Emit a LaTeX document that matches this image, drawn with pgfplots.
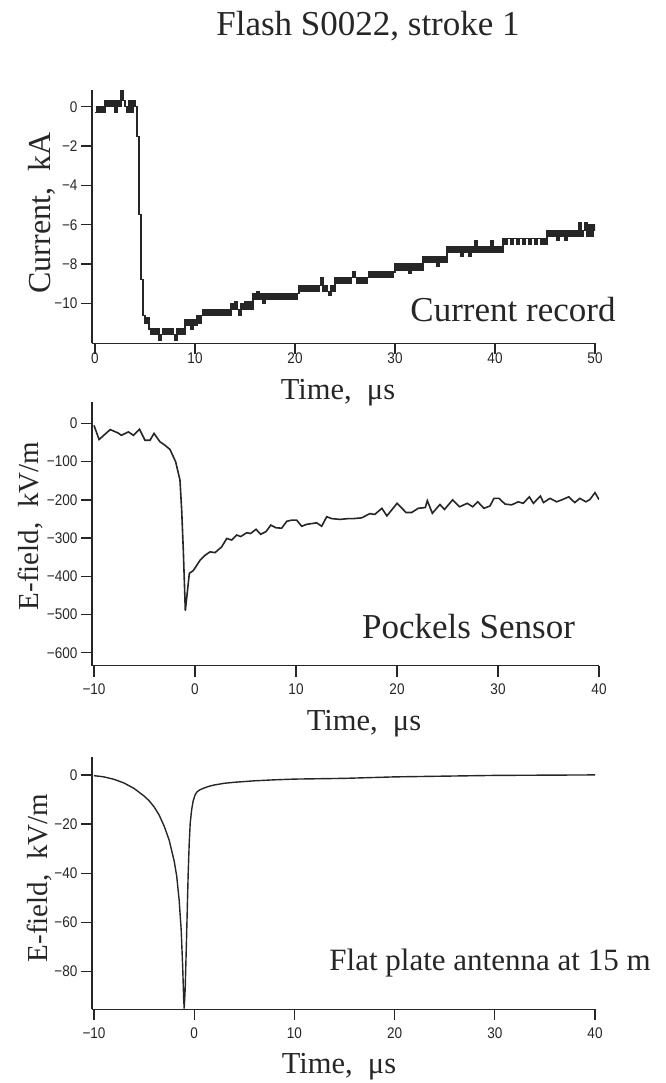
\documentclass[border=0pt]{standalone}
\usepackage{fontspec}
\setmainfont{Liberation Serif}
\newfontfamily\ticksfont[FakeStretch=0.88]{Liberation Sans}
\usepackage{pgfplots}
\pgfplotsset{compat=1.18}
\definecolor{ink}{gray}{0.15}
\pgfplotsset{
  myaxis/.style={
    scale only axis, anchor=south west,
    axis lines=left,
    axis line style={-, line width=1.5pt, ink},
    tick align=outside, major tick length=11pt,
    every tick/.style={line width=1.3pt, ink},
    ticklabel style={font=\ticksfont\fontsize{15.4}{15.4}\selectfont, text=ink},
    minor tick num=0,
  }
}
\begin{document}
\begin{tikzpicture}
\path[use as bounding box] (0pt,0pt) rectangle (665pt,-1083pt);

% ---------- Panel 1: current ----------
\begin{axis}[myaxis, at={(92pt,-343.3pt)}, width=503pt, height=253.3pt,
  xmin=-0.3, xmax=50, ymin=-12.03, ymax=0.85,
  xticklabel style={yshift=5pt},
  xtick={0,10,20,30,40,50}, xticklabels={0,10,20,30,40,50},
  ytick={0,-2,-4,-6,-8,-10}, yticklabels={0,−2,−4,−6,−8,−10}]
\addplot[const plot, ink, line width=1.2pt] coordinates {
(0.0,-0.3)(0.2,0)(0.4,-0.3)(0.6,0)(0.8,-0.3)(1.0,0.3)(1.2,0)(1.4,0.3)(1.6,0)(1.8,0.3)
(2.0,-0.3)(2.2,0.3)(2.4,0)(2.6,0.8)(2.8,0.3)(3.0,0)(3.2,-0.3)(3.4,0.3)(3.6,-0.3)(3.8,0.3)
(4.0,0)(4.2,-1.5)(4.4,-5.5)(4.6,-8.8)(4.8,-10.6)(5.0,-11.0)(5.2,-10.7)(5.4,-11.3)(5.6,-11.6)(5.8,-11.3)
(6.0,-11.6)(6.2,-11.3)(6.4,-11.9)(6.6,-11.6)(6.8,-11.3)(7.0,-11.6)(7.2,-11.3)(7.4,-11.6)(7.6,-11.3)(7.8,-11.6)
(8.0,-11.9)(8.2,-11.3)(8.4,-11.6)(8.6,-11.3)(8.8,-11.6)(9.0,-10.8)(9.2,-11.1)(9.4,-10.8)(9.6,-11.3)(9.8,-10.8)
(10.0,-11.1)(10.2,-10.6)(10.4,-11.0)(10.6,-10.6)(10.8,-10.3)(11.0,-10.6)(11.2,-10.3)(11.4,-10.6)(11.6,-10.3)(11.8,-10.6)
(12.0,-10.3)(12.2,-10.6)(12.4,-10.3)(12.6,-10.6)(12.8,-10.3)(13.0,-10.6)(13.2,-10.3)(13.4,-10.6)(13.6,-10.0)(13.8,-10.3)
(14.0,-9.9)(14.2,-10.3)(14.4,-10.6)(14.6,-10.0)(14.8,-10.3)(15.0,-9.9)(15.2,-10.3)(15.4,-9.9)(15.6,-10.3)(15.8,-9.5)
(16.0,-9.8)(16.2,-9.4)(16.4,-9.8)(16.6,-9.5)(16.8,-10.0)(17.0,-9.5)(17.2,-9.8)(17.4,-9.5)(17.6,-9.8)(17.8,-9.5)
(18.0,-9.8)(18.2,-9.5)(18.4,-9.8)(18.6,-9.5)(18.8,-9.8)(19.0,-9.5)(19.2,-9.8)(19.4,-9.5)(19.6,-9.8)(19.8,-9.5)
(20.0,-9.8)(20.2,-9.5)(20.4,-9.1)(20.6,-9.4)(20.8,-9.1)(21.0,-9.4)(21.2,-9.1)(21.4,-9.4)(21.6,-9.1)(21.8,-9.4)
(22.0,-9.1)(22.2,-9.4)(22.4,-9.1)(22.6,-8.7)(22.8,-9.4)(23.0,-9.1)(23.2,-9.4)(23.4,-9.6)(23.6,-9.1)(23.8,-9.4)
(24.0,-8.7)(24.2,-9.0)(24.4,-8.7)(24.6,-9.0)(24.8,-8.7)(25.0,-9.0)(25.2,-8.7)(25.4,-9.0)(25.6,-8.7)(25.8,-8.4)
(26.0,-8.7)(26.2,-9.0)(26.4,-8.7)(26.6,-9.0)(26.8,-8.7)(27.0,-9.0)(27.2,-8.7)(27.4,-8.4)(27.6,-8.7)(27.8,-8.4)
(28.0,-8.7)(28.2,-8.4)(28.4,-8.7)(28.6,-8.4)(28.8,-8.7)(29.0,-8.4)(29.2,-8.7)(29.4,-8.4)(29.6,-8.7)(29.8,-8.4)
(30.0,-8.0)(30.2,-8.3)(30.4,-8.0)(30.6,-8.3)(30.8,-8.0)(31.0,-8.3)(31.2,-8.0)(31.4,-8.5)(31.6,-8.0)(31.8,-8.3)
(32.0,-8.0)(32.2,-8.3)(32.4,-8.0)(32.6,-8.3)(32.8,-7.6)(33.0,-7.9)(33.2,-7.6)(33.4,-7.9)(33.6,-7.6)(33.8,-7.9)
(34.0,-7.6)(34.2,-8.1)(34.4,-7.6)(34.6,-7.9)(34.8,-7.6)(35.0,-7.9)(35.2,-7.1)(35.4,-7.4)(35.6,-7.1)(35.8,-7.4)
(36.0,-7.1)(36.2,-7.4)(36.4,-7.1)(36.6,-7.6)(36.8,-7.1)(37.0,-7.4)(37.2,-7.1)(37.4,-7.6)(37.6,-7.1)(37.8,-7.4)
(38.0,-6.8)(38.2,-7.4)(38.4,-7.1)(38.6,-7.4)(38.8,-7.1)(39.0,-7.4)(39.2,-7.1)(39.4,-7.4)(39.6,-6.8)(39.8,-7.4)
(40.0,-7.1)(40.2,-7.4)(40.4,-7.1)(40.6,-7.4)(40.8,-6.7)(41.0,-7.0)(41.2,-6.7)(41.4,-6.7)(41.6,-7.0)(41.8,-6.7)
(42.0,-6.7)(42.2,-7.0)(42.4,-6.7)(42.6,-6.7)(42.8,-7.0)(43.0,-6.7)(43.2,-6.7)(43.4,-7.0)(43.6,-6.7)(43.8,-6.7)
(44.0,-7.0)(44.2,-6.7)(44.4,-6.7)(44.6,-7.0)(44.8,-6.7)(45.0,-7.0)(45.2,-6.3)(45.4,-6.6)(45.6,-6.3)(45.8,-6.6)
(46.0,-6.3)(46.2,-6.8)(46.4,-6.3)(46.6,-6.6)(46.8,-6.3)(47.0,-6.8)(47.2,-6.3)(47.4,-6.6)(47.6,-6.3)(47.8,-6.6)
(48.0,-6.3)(48.2,-6.6)(48.4,-5.9)(48.6,-6.6)(48.8,-6.3)(49.0,-5.9)(49.2,-6.6)(49.4,-6.0)(49.6,-6.6)(49.8,-6.0)
(50.0,-6.3)
};
\end{axis}

% ---------- Panel 2: Pockels sensor ----------
\begin{axis}[myaxis, at={(92pt,-665.7pt)}, width=507pt, height=264pt,
  xmin=-10.2, xmax=40, ymin=-634, ymax=57,
  xticklabel style={yshift=-3.2pt},
  xtick={-10,0,10,20,30,40}, xticklabels={−10,0,10,20,30,40},
  ytick={0,-100,-200,-300,-400,-500,-600}, yticklabels={0,−100,−200,−300,−400,−500,−600}]
\addplot[ink, line width=1.6pt] coordinates {
(-10.0,-5)(-9.5,-42)(-8.4,-16)(-7.6,-25)(-7.3,-31)(-6.6,-22)(-6.1,-31)(-5.5,-15)(-4.95,-44)(-4.46,-44)
(-4.06,-26)(-3.47,-48)(-2.97,-57)(-2.48,-68)(-1.92,-100)(-1.49,-148)(-1.32,-227)(-1.16,-331)(-0.96,-490)(-0.56,-392)
(-0.17,-385)(0.5,-358)(0.99,-345)(1.49,-336)(1.98,-338)(2.64,-323)(3.14,-301)(3.63,-305)(4.13,-292)(4.52,-296)
(5.12,-286)(5.5,-288)(6.04,-277)(6.5,-290)(7.03,-283)(7.5,-266)(8.02,-273)(8.58,-274)(9.08,-256)(9.57,-253)
(10.07,-253)(10.56,-269)(11.06,-264)(11.55,-262)(12.05,-260)(12.54,-269)(13.04,-244)(13.53,-249)(14.36,-251)(15.18,-249)
(15.7,-249)(16.5,-247)(17.3,-236)(17.8,-238)(18.5,-222)(19.0,-242)(20.0,-209)(20.9,-233)(21.45,-233)(22.1,-222)
(22.8,-220)(23.0,-202)(23.5,-235)(24.25,-212)(24.7,-225)(25.5,-200)(26.2,-218)(26.95,-209)(27.5,-218)(28.0,-205)
(28.6,-222)(29.2,-216)(29.6,-196)(30.1,-196)(30.7,-211)(31.35,-213)(32.0,-205)(32.5,-209)(33.1,-192)(33.5,-209)
(34.2,-190)(34.5,-207)(35.15,-196)(35.8,-205)(36.4,-199)(37.0,-192)(37.6,-207)(38.1,-196)(38.7,-205)(39.1,-199)
(39.6,-181)(40.0,-199)
};
\end{axis}

% ---------- Panel 3: flat plate antenna ----------
\begin{axis}[myaxis, at={(92pt,-1009.3pt)}, width=503pt, height=252.6pt,
  xmin=-10.2, xmax=40, ymin=-95.3, ymax=7.4,
  xticklabel style={yshift=-4.1pt},
  xtick={-10,0,10,20,30,40}, xticklabels={−10,0,10,20,30,40},
  ytick={0,-20,-40,-60,-80}, yticklabels={0,−20,−40,−60,−80}]
\addplot[ink, line width=1.4pt] coordinates {
(-10,-0.3)(-9,-0.8)(-8,-1.8)(-7,-3.3)(-6,-5.5)(-5,-8.6)(-4.5,-10.5)(-4,-13)(-3.5,-16.3)(-3,-20.8)
(-2.5,-26.5)(-2.0,-35)(-1.75,-41)(-1.5,-51)(-1.3,-63)(-1.15,-78)(-1.05,-91)(-1.0,-95)(-0.9,-87)(-0.8,-72)
(-0.7,-56)(-0.6,-40)(-0.5,-28)(-0.4,-19.7)(-0.25,-14)(-0.1,-10.5)(0.1,-8)(0.3,-6.8)(0.6,-6)(1.0,-5.3)
(1.5,-4.6)(2,-4.1)(3,-3.4)(4,-3.0)(5,-2.7)(6,-2.4)(8,-2.0)(10,-1.7)(15,-1.4)(20,-0.8)
(25,-0.5)(30,-0.2)(35,-0.1)(40,0)
};
\end{axis}

% ---------- texts ----------
\node[text=ink, anchor=base, font=\fontsize{35}{35}\selectfont] at (368pt,-36pt) {Flash S0022, stroke 1};

\node[text=ink, rotate=90, anchor=base, font=\fontsize{32}{32}\selectfont] at (50pt,-213pt) {Current,~~kA};
\node[text=ink, rotate=90, anchor=base, font=\fontsize{29}{29}\selectfont] at (38pt,-526pt) {E-field,~~kV/m};
\node[text=ink, rotate=90, anchor=base, font=\fontsize{29}{29}\selectfont] at (47pt,-878pt) {E-field,~~kV/m};

\node[text=ink, anchor=base, font=\fontsize{30.5}{30.5}\selectfont] at (338pt,-399pt) {Time,~~μs};
\node[text=ink, anchor=base, font=\fontsize{30.5}{30.5}\selectfont] at (364pt,-730pt) {Time,~~μs};
\node[text=ink, anchor=base, font=\fontsize{30.5}{30.5}\selectfont] at (339pt,-1073.5pt) {Time,~~μs};

\node[text=ink, anchor=base, font=\fontsize{35}{35}\selectfont] at (513pt,-321.7pt) {Current record};
\node[text=ink, anchor=base, font=\fontsize{35}{35}\selectfont] at (468.5pt,-638.3pt) {Pockels Sensor};
\node[text=ink, anchor=base, font=\fontsize{31}{31}\selectfont] at (490pt,-970pt) {Flat plate antenna at 15 m};
\end{tikzpicture}
\end{document}
